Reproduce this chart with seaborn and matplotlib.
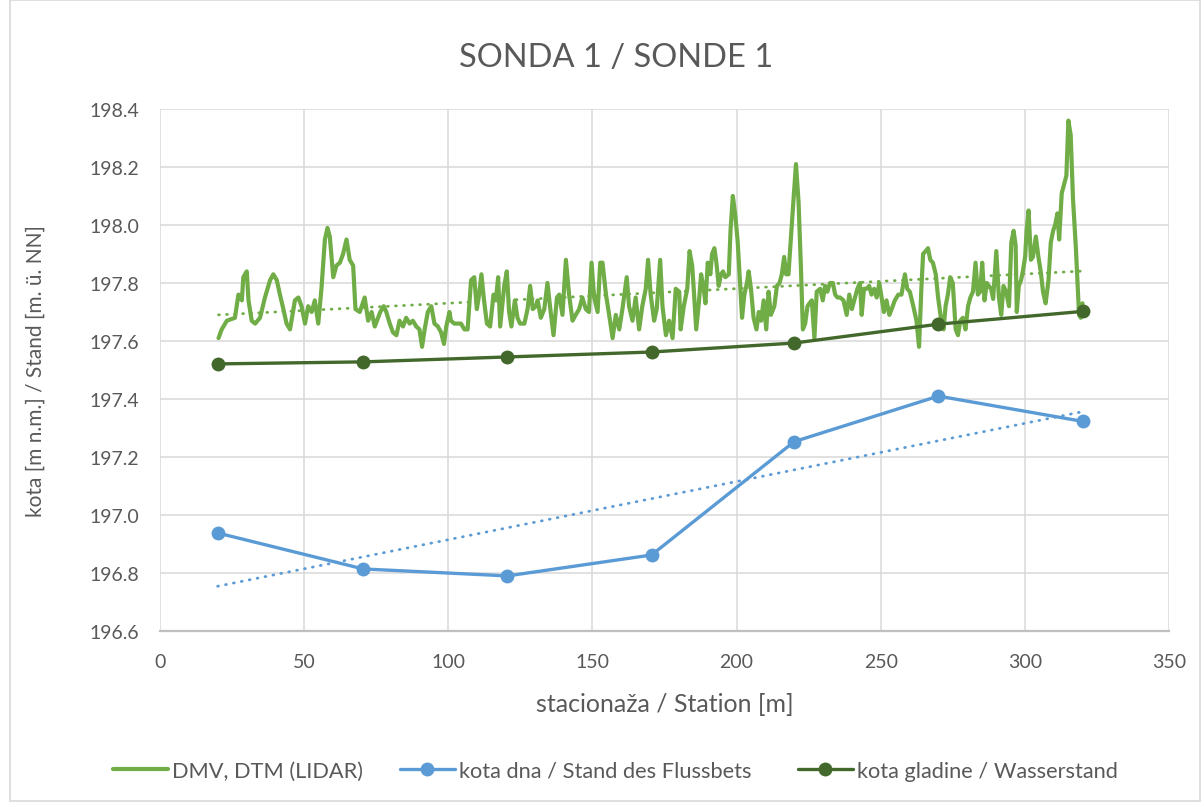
import numpy as np
import pandas as pd
import matplotlib
matplotlib.use("Agg")
import matplotlib.pyplot as plt
from matplotlib.patches import Rectangle
from matplotlib.lines import Line2D
import seaborn as sns

# ---------------- data ----------------
dmv_station = [
    20.3, 21.4, 23.2, 26.0, 27.2, 28.4, 28.9, 30.1, 30.7, 31.8, 33.0, 34.7, 36.4, 38.2, 39.3, 40.5,
    41.6, 42.8, 43.9, 45.1, 46.8, 48.0, 49.1, 50.3, 51.4, 52.6, 53.7, 54.9, 56.0, 57.2, 58.1, 58.9,
    60.1, 61.2, 62.4, 63.5, 64.7, 65.8, 67.0, 67.8, 69.3, 71.0, 72.2, 73.4, 74.5, 76.4, 77.6, 78.5,
    79.7, 80.8, 82.0, 83.1, 84.3, 85.4, 86.6, 87.7, 88.9, 90.0, 90.9, 91.8, 92.9, 94.1, 95.2, 96.4,
    97.5, 98.5, 99.3, 100.4, 100.9, 102.1, 104.4, 105.6, 106.7, 107.9, 109.0, 109.9, 110.7, 111.5,
    112.4, 113.4, 114.5, 115.7, 116.5, 117.3, 118.0, 118.8, 119.4, 120.3, 121.1, 121.9, 123.1, 124.0,
    124.9, 126.4, 127.5, 128.4, 129.3, 130.4, 131.0, 132.1, 133.3, 134.4, 135.4, 136.5, 137.7, 138.5,
    139.6, 140.8, 141.9, 143.1, 144.2, 145.4, 146.5, 147.7, 148.8, 149.7, 150.6, 151.8, 152.7, 153.5,
    154.7, 155.8, 157.0, 158.1, 159.3, 160.4, 161.9, 162.7, 163.9, 165.0, 166.2, 167.3, 168.5, 169.3,
    170.2, 171.4, 172.3, 173.5, 174.3, 175.5, 176.6, 177.8, 178.9, 180.1, 180.6, 181.7, 182.9, 183.7,
    184.6, 185.2, 186.0, 186.9, 187.7, 188.6, 189.2, 190.0, 190.9, 191.5, 192.3, 193.0, 193.8, 194.6,
    195.3, 196.1, 197.3, 197.9, 198.7, 199.6, 200.4, 201.3, 201.9, 202.7, 203.6, 204.2, 205.0, 205.9,
    206.9, 207.7, 208.5, 209.4, 210.3, 211.1, 211.9, 213.1, 214.0, 214.9, 215.7, 216.5, 217.2, 218.0,
    218.8, 219.7, 220.6, 221.5, 222.3, 223.0, 223.8, 224.6, 225.3, 226.1, 227.0, 227.8, 229.0, 229.9,
    230.7, 231.5, 232.4, 233.4, 234.2, 235.0, 235.9, 237.1, 238.2, 239.1, 240.0, 241.1, 241.9, 242.8,
    243.4, 244.2, 245.1, 246.0, 246.8, 247.7, 248.6, 249.5, 250.3, 251.1, 252.0, 253.0, 253.8, 254.9,
    256.1, 257.2, 258.4, 259.2, 260.1, 261.3, 262.4, 263.3, 264.1, 264.7, 265.6, 266.4, 267.2, 268.1,
    269.1, 269.9, 271.0, 271.8, 272.5, 273.3, 274.1, 275.0, 276.0, 276.8, 277.6, 278.5, 279.4, 280.3,
    281.1, 282.0, 282.9, 283.7, 284.5, 285.2, 286.0, 286.8, 287.5, 288.3, 289.0, 290.1, 291.0, 291.8,
    292.6, 293.5, 294.5, 295.3, 296.1, 296.8, 297.2, 297.9, 298.7, 299.3, 300.1, 300.6, 301.3, 302.1,
    302.8, 303.8, 304.7, 305.5, 306.3, 307.2, 308.2, 309.0, 309.8, 310.5, 311.3, 311.9, 312.8, 313.6,
    314.4, 315.1, 315.9, 316.7, 317.7, 318.8, 319.4, 320.0,
]
dmv_elev = [
    197.61, 197.64, 197.67, 197.68, 197.76, 197.74, 197.82, 197.84, 197.74, 197.67, 197.66, 197.68, 197.75, 197.81, 197.83, 197.81,
    197.76, 197.71, 197.66, 197.64, 197.74, 197.75, 197.72, 197.66, 197.72, 197.70, 197.74, 197.66, 197.78, 197.95, 197.99, 197.96,
    197.82, 197.86, 197.87, 197.90, 197.95, 197.88, 197.86, 197.71, 197.70, 197.75, 197.67, 197.70, 197.65, 197.70, 197.72, 197.70,
    197.66, 197.63, 197.62, 197.67, 197.65, 197.68, 197.66, 197.67, 197.65, 197.64, 197.58, 197.64, 197.70, 197.72, 197.66, 197.65,
    197.63, 197.59, 197.65, 197.70, 197.67, 197.66, 197.66, 197.64, 197.64, 197.81, 197.82, 197.71, 197.76, 197.83,
    197.74, 197.66, 197.65, 197.76, 197.74, 197.82, 197.65, 197.73, 197.79, 197.84, 197.70, 197.65, 197.74, 197.68,
    197.66, 197.66, 197.71, 197.79, 197.71, 197.72, 197.74, 197.68, 197.71, 197.80, 197.71, 197.62, 197.75, 197.76,
    197.69, 197.88, 197.76, 197.67, 197.69, 197.71, 197.75, 197.71, 197.70, 197.87, 197.75, 197.70, 197.87, 197.87,
    197.76, 197.69, 197.61, 197.69, 197.64, 197.71, 197.82, 197.72, 197.67, 197.75, 197.64, 197.72, 197.78, 197.88,
    197.76, 197.67, 197.71, 197.88, 197.72, 197.62, 197.67, 197.61, 197.78, 197.77, 197.64, 197.72, 197.78, 197.91,
    197.86, 197.77, 197.64, 197.73, 197.83, 197.78, 197.73, 197.87, 197.83, 197.90, 197.92, 197.87, 197.79, 197.83,
    197.84, 197.82, 197.83, 197.98, 198.10, 198.03, 197.94, 197.78, 197.68, 197.76, 197.80, 197.84, 197.78, 197.68,
    197.64, 197.70, 197.67, 197.74, 197.64, 197.77, 197.69, 197.72, 197.79, 197.80, 197.83, 197.89, 197.83, 197.83,
    197.95, 198.08, 198.21, 198.08, 197.86, 197.64, 197.66, 197.72, 197.73, 197.74, 197.61, 197.77, 197.78, 197.74,
    197.79, 197.77, 197.80, 197.80, 197.76, 197.75, 197.75, 197.74, 197.69, 197.76, 197.71, 197.75, 197.78, 197.80,
    197.69, 197.78, 197.78, 197.79, 197.76, 197.78, 197.75, 197.80, 197.75, 197.70, 197.74, 197.69, 197.71, 197.74,
    197.76, 197.76, 197.83, 197.78, 197.77, 197.72, 197.67, 197.58, 197.78, 197.90, 197.91, 197.92, 197.88, 197.87,
    197.83, 197.75, 197.67, 197.64, 197.72, 197.76, 197.82, 197.80, 197.64, 197.62, 197.67, 197.68, 197.64, 197.72,
    197.75, 197.77, 197.87, 197.76, 197.77, 197.87, 197.74, 197.80, 197.79, 197.78, 197.745, 197.91, 197.75, 197.69,
    197.79, 197.77, 197.72, 197.94, 197.98, 197.93, 197.70, 197.79, 197.81, 197.84, 197.89, 197.98, 198.05, 197.88,
    197.89, 197.96, 197.89, 197.84, 197.77, 197.73, 197.81, 197.94, 197.98, 198.00, 198.04, 197.95, 198.11, 198.14,
    198.17, 198.36, 198.31, 198.09, 197.92, 197.69, 197.68, 197.73,
]
station = [20, 70.5, 120.5, 170.5, 220, 270, 320]
bed_level = [196.938, 196.814, 196.790, 196.862, 197.253, 197.410, 197.323]
water_level = [197.521, 197.528, 197.545, 197.562, 197.593, 197.658, 197.702]

title = "SONDA 1 / SONDE 1"
xlabel = "stacionaža / Station [m]"
ylabel = "kota [m n.m.] / Stand [m. ü. NN]"
lbl_dmv = "DMV, DTM (LIDAR)"
lbl_bed = "kota dna / Stand des Flussbets"
lbl_water = "kota gladine / Wasserstand"

C_DMV = "#70AD47"
C_BED = "#5B9BD5"
C_WAT = "#43682B"
TXT = "#595959"

# ---------------- style ----------------
sns.set_theme(style="white")
plt.rcParams["font.family"] = ["Lato", "DejaVu Sans"]

W, H = 1202, 803
fig = plt.figure(figsize=(W / 100, H / 100), dpi=100)
ax = fig.add_axes([160 / W, 1 - 632 / H, (1169 - 160) / W, (632 - 110) / H])

dmv = pd.DataFrame({"x": dmv_station, "y": dmv_elev})
pts = pd.DataFrame({"x": station, "bed": bed_level, "water": water_level})

sns.lineplot(data=dmv, x="x", y="y", ax=ax, color=C_DMV, lw=3.0, sort=False,
             solid_joinstyle="round", zorder=3)
sns.lineplot(data=pts, x="x", y="bed", ax=ax, color=C_BED, lw=2.4, marker="o",
             markersize=10, markeredgewidth=0, zorder=4)
sns.lineplot(data=pts, x="x", y="water", ax=ax, color=C_WAT, lw=2.4, marker="o",
             markersize=10, markeredgewidth=0, zorder=5)

# linear trendlines (Excel style)
for xs, ys, c in [(dmv_station, dmv_elev, C_DMV), (station, bed_level, C_BED)]:
    k, b = np.polyfit(xs, ys, 1)
    xx = np.array([min(xs), max(xs)])
    ax.plot(xx, k * xx + b, color=c, lw=2.0, linestyle=(0, (0.3, 2.6)),
            dash_capstyle="round", zorder=3.5)

ax.set_xlim(0, 350)
ax.set_ylim(196.6, 198.4)
ax.set_xticks(np.arange(0, 351, 50))
ax.set_yticks(np.arange(196.6, 198.41, 0.2))
ax.yaxis.set_major_formatter(matplotlib.ticker.FormatStrFormatter("%.1f"))
ax.grid(True, color="#D9D9D9", lw=1.1)
ax.set_axisbelow(True)
for s in ["top", "right", "left"]:
    ax.spines[s].set_visible(False)
ax.spines["bottom"].set_color("#BFBFBF")
ax.spines["bottom"].set_linewidth(1.6)
ax.tick_params(axis="both", length=0, labelsize=14, labelcolor=TXT)
ax.tick_params(axis="x", pad=16)
ax.tick_params(axis="y", pad=15)

ax.set_xlabel(xlabel, fontsize=18, color=TXT)
ax.set_ylabel(ylabel, fontsize=15, color=TXT)
ax.xaxis.set_label_coords(0.5, (632 - 705) / (632 - 110))
ax.xaxis.label.set_va("center")
ax.yaxis.set_label_coords((36 - 160) / (1169 - 160), 0.5)
ax.yaxis.label.set_va("center")

fig.text(616 / W, 1 - 58 / H, title, ha="center", va="center", fontsize=23.5, color=TXT)

entries = [
    (Line2D([], [], color=C_DMV, lw=3.0), lbl_dmv, 113),
    (Line2D([], [], color=C_BED, lw=2.4, marker="o", markersize=10, markeredgewidth=0), lbl_bed, 400),
    (Line2D([], [], color=C_WAT, lw=2.4, marker="o", markersize=10, markeredgewidth=0), lbl_water, 798),
]
for h, lab, x0 in entries:
    fig.legend([h], [lab], loc="center left", bbox_to_anchor=(x0 / W, 1 - 772 / H),
               frameon=False, fontsize=15.7, labelcolor=TXT, handlelength=2.5,
               handletextpad=0.2, borderpad=0, borderaxespad=0)

fig.patches.append(Rectangle((10 / W, 1 / H), (W - 12) / W, (H - 2) / H,
                             transform=fig.transFigure, fill=False,
                             edgecolor="#D9D9D9", lw=1.2))

fig.savefig("out.png", dpi=100)
